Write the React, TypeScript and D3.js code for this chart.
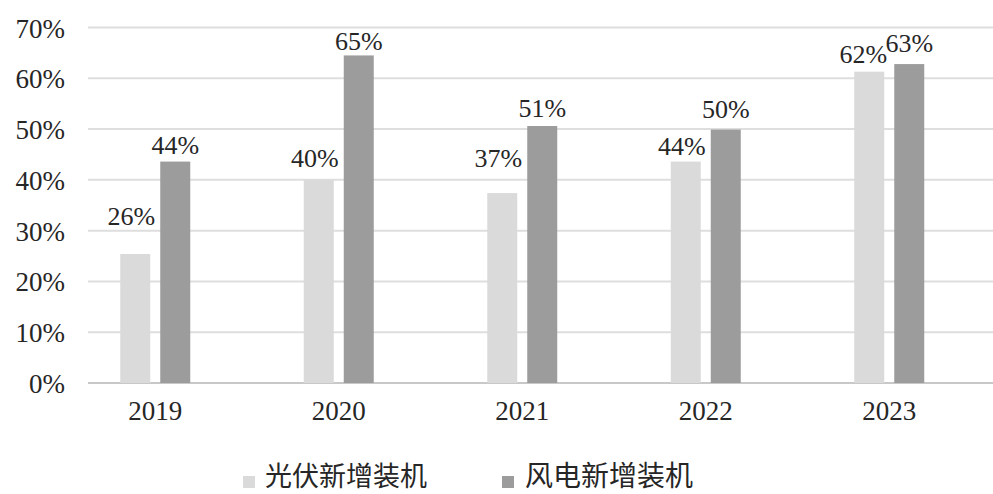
import React from "react";
import * as d3 from "d3";

const years = ["2019", "2020", "2021", "2022", "2023"];
const seriesNames = ["光伏新增装机", "风电新增装机"];
const pvValues = [25.4, 40.0, 37.4, 43.6, 61.3];
const windValues = [43.6, 64.5, 50.6, 49.9, 62.8];
const pvLabels = ["26%", "40%", "37%", "44%", "62%"];
const windLabels = ["44%", "65%", "51%", "50%", "63%"];
// level (in % units) at which each label's baseline sits, as placed in the original
const pvLabelLevels = [31.1, 42.5, 42.5, 44.9, 63.0];
const windLabelLevels = [45.1, 65.6, 52.4, 52.2, 65.2];
const yTicks = [0, 10, 20, 30, 40, 50, 60, 70];

const W = 993;
const H = 494;
const colors = ["#dadada", "#9c9c9c"];
const textColor = "#262626";
const serif = "'Liberation Serif', 'DejaVu Serif', serif";

export default function App() {
  const y = d3.scaleLinear().domain([0, 70]).range([383, 27.5]);
  const x0 = d3.scaleBand<string>().domain(years).range([63.5, 981]).paddingInner(0).paddingOuter(0);
  const x1 = d3.scaleBand<string>().domain(seriesNames).range([-35, 35]).paddingInner(0.25);
  const center = (yr: string) => (x0(yr) as number) + x0.bandwidth() / 2;
  const series = [
    { name: seriesNames[0], values: pvValues, labels: pvLabels, levels: pvLabelLevels, dx: -4 },
    { name: seriesNames[1], values: windValues, labels: windLabels, levels: windLabelLevels, dx: 0 },
  ];
  const gridLeft = 88;
  const gridRight = W;

  return (
    <svg width={W} height={H} style={{ position: "absolute", left: 0, top: 0, background: "#fff" }}>
      <rect x={0} y={0} width={W} height={H} fill="#ffffff" />
      {yTicks.map((t) => (
        <g key={t}>
          <line
            x1={gridLeft}
            x2={gridRight}
            y1={y(t)}
            y2={y(t)}
            stroke={t === 0 ? "#c8c8c8" : "#dedede"}
            strokeWidth={t === 0 ? 2 : 2}
          />
          <text x={65} y={y(t) + 10} textAnchor="end" fontFamily={serif} fontSize={27} fill={textColor}>
            {`${t}%`}
          </text>
        </g>
      ))}
      {series.map((s, si) =>
        years.map((yr, i) => {
          const bx = center(yr) + (x1(s.name) as number);
          const bw = x1.bandwidth();
          const adj = yr === "2023" && si === 0 ? -6 : s.dx;
          return (
            <g key={s.name + yr}>
              <rect x={bx} y={y(s.values[i])} width={bw} height={y(0) - y(s.values[i])} fill={colors[si]} />
              <text
                x={bx + bw / 2 + adj}
                y={y(s.levels[i])}
                textAnchor="middle"
                fontFamily={serif}
                fontSize={26}
                fill={textColor}
              >
                {s.labels[i]}
              </text>
            </g>
          );
        })
      )}
      {years.map((yr) => (
        <text key={yr} x={center(yr)} y={420} textAnchor="middle" fontFamily={serif} fontSize={27} fill={textColor}>
          {yr}
        </text>
      ))}
      <g>
        <rect x={243} y={476} width={12} height={12} fill={colors[0]} />
        <text x={265} y={486} fontFamily="'Noto Sans CJK SC', sans-serif" fontSize={27} fill={textColor} dominantBaseline="auto">
          {seriesNames[0]}
        </text>
        <rect x={502} y={476} width={12} height={12} fill={colors[1]} />
        <text x={525} y={486} fontFamily="'Noto Sans CJK SC', sans-serif" fontSize={28} fill={textColor}>
          {seriesNames[1]}
        </text>
      </g>
    </svg>
  );
}
